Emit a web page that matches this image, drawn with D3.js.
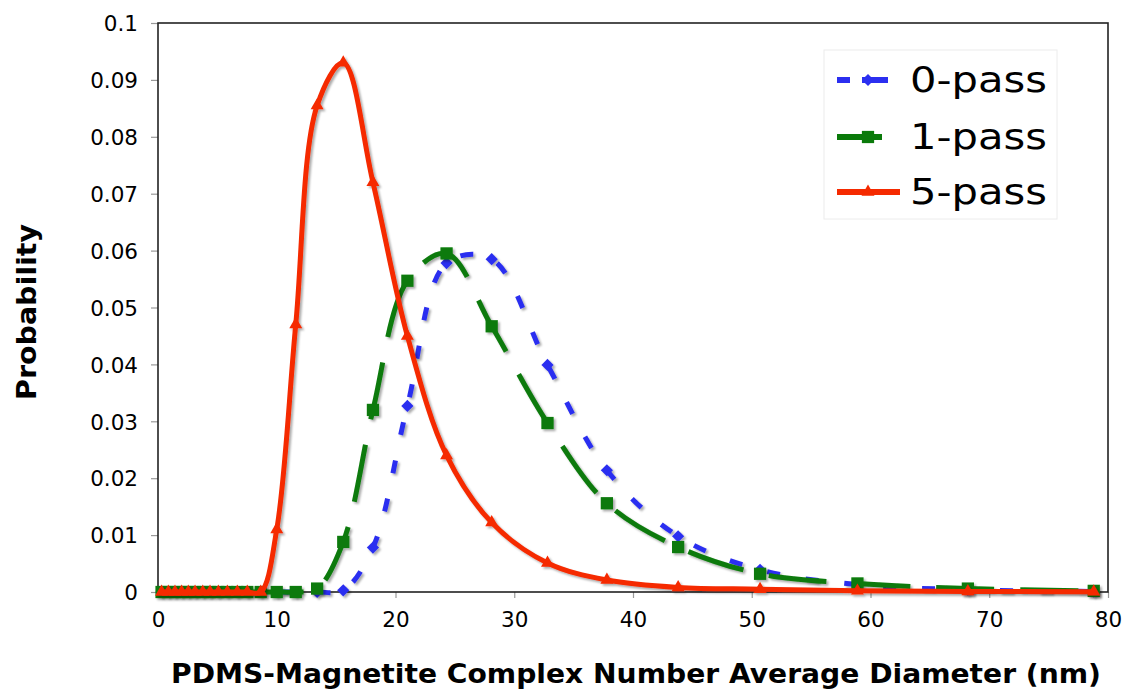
<!DOCTYPE html>
<html>
<head>
<meta charset="utf-8">
<script src="https://cdn.jsdelivr.net/npm/d3@7"></script>
<style>
  html, body { margin: 0; padding: 0; background: #fff; }
  svg { display: block; }
  text { font-family: "DejaVu Sans", Verdana, sans-serif; fill: #000; }
</style>
</head>
<body>
<svg id="chart" width="1122" height="692"></svg>
<script>
// Particle diameter bins (nm)
const diameters = [0.3, 0.87, 1.43, 1.99, 2.55, 3.12, 3.77, 4.38, 5.08, 5.84, 6.68, 7.52, 8.65,
                   10.0, 11.6, 13.4, 15.6, 18.1, 21.0, 24.3, 28.1, 32.8, 37.8, 43.8, 50.7, 58.9, 68.2, 78.8];

// Probability per bin for each processing condition
const pass0 = [0, 0, 0, 0, 0, 0, 0, 0, 0, 0, 0, 0, 0, 0, 0, 0,
               0.0003, 0.0078, 0.0327, 0.0578, 0.0585, 0.0399, 0.0214, 0.0098, 0.0039, 0.0013, 0.0004, 0.0001];
const pass1 = [0, 0, 0, 0, 0, 0, 0, 0, 0, 0, 0, 0, 0, 0, 0,
               0.0006, 0.0088, 0.032, 0.0547, 0.0595, 0.0467, 0.0297, 0.0156, 0.0079, 0.0032, 0.0015, 0.0006, 0.0002];
const pass5 = [0, 0, 0, 0, 0, 0, 0, 0, 0, 0, 0, 0, 0,
               0.011, 0.047, 0.0855, 0.093, 0.072, 0.045, 0.024, 0.0122, 0.0051, 0.0021, 0.0008, 0.0005, 0.0002, 0.0001, 0.00005];

const seriesNames = ["0-pass", "1-pass", "5-pass"];
const xTicks = [0, 10, 20, 30, 40, 50, 60, 70, 80];
const yTicks = [0, 0.01, 0.02, 0.03, 0.04, 0.05, 0.06, 0.07, 0.08, 0.09, 0.1];

const series = [
  { name: seriesNames[0], values: pass0, color: "#2b2ff0", dash: "13,26", marker: "diamond" },
  { name: seriesNames[1], values: pass1, color: "#0a7a0a", dash: "58,26", marker: "square" },
  { name: seriesNames[2], values: pass5, color: "#f52a00", dash: null, marker: "triangle" }
];

const svg = d3.select("#chart");
const plotLeft = 158, plotRight = 1108, plotTop = 23, plotBottom = 592;

const x = d3.scaleLinear().domain([0, 80]).range([plotLeft, plotRight]);
const y = d3.scaleLinear().domain([0, 0.1]).range([plotBottom, plotTop]);

// Soft drop shadow under the data lines
const defs = svg.append("defs");
const shadow = defs.append("filter").attr("id", "shadow")
  .attr("x", "-5%").attr("y", "-5%").attr("width", "110%").attr("height", "110%");
shadow.append("feDropShadow")
  .attr("dx", 2).attr("dy", 2).attr("stdDeviation", 0.9)
  .attr("flood-color", "#000").attr("flood-opacity", 0.33);

// Axes
const fmtY = d => d === 0 ? "0" : String(+d.toFixed(2));
const yAxis = svg.append("g").attr("transform", `translate(${plotLeft},0)`)
  .call(d3.axisLeft(y).tickValues(yTicks).tickFormat(fmtY).tickSize(7).tickPadding(13));
const xAxis = svg.append("g").attr("transform", `translate(0,${plotBottom})`)
  .call(d3.axisBottom(x).tickValues(xTicks).tickFormat(d3.format("d")).tickSize(6).tickPadding(14));

[yAxis, xAxis].forEach(g => {
  g.select(".domain").remove();
  g.selectAll(".tick line").attr("stroke", "#999").attr("stroke-width", 1.2);
  g.selectAll(".tick text").style("font-size", "21.5px").attr("fill", "#000");
});
yAxis.selectAll(".tick text").attr("dy", "0.36em");

// Plot area frame
svg.append("rect")
  .attr("x", plotLeft).attr("y", plotTop)
  .attr("width", plotRight - plotLeft).attr("height", plotBottom - plotTop)
  .attr("fill", "none").attr("stroke", "#222").attr("stroke-width", 1.6);

// Marker shapes
const symbolFor = {
  diamond: d3.symbol().type(d3.symbolDiamond2).size(95),
  square: d3.symbol().type(d3.symbolSquare).size(150),
  triangle: d3.symbol().type(d3.symbolTriangle2).size(120)
};

const line = d3.line()
  .x(d => x(d[0]))
  .y(d => y(d[1]))
  .curve(d3.curveCatmullRom.alpha(0.5));

const plot = svg.append("g");
series.forEach(s => {
  const pts = diameters.map((d, i) => [d, s.values[i]]);
  const g = plot.append("g").attr("filter", "url(#shadow)");
  g.append("path")
    .datum(pts)
    .attr("d", line)
    .attr("fill", "none")
    .attr("stroke", s.color)
    .attr("stroke-width", 5)
    .attr("stroke-linejoin", "round")
    .attr("stroke-dasharray", s.dash);
  g.selectAll("path.mk")
    .data(pts)
    .join("path")
    .attr("class", "mk")
    .attr("transform", d => `translate(${x(d[0])},${y(d[1])})`)
    .attr("d", symbolFor[s.marker])
    .attr("fill", s.color);
});

// Legend
const legend = svg.append("g");
legend.append("rect")
  .attr("x", 824).attr("y", 50).attr("width", 233).attr("height", 169)
  .attr("fill", "#fff").attr("stroke", "#ececec").attr("stroke-width", 1);

const legendRows = [80, 137, 192];
const legendLines = [
  [[837, 850], [862, 888]],
  [[837, 882]],
  [[837, 900]]
];
series.forEach((s, i) => {
  const row = legend.append("g");
  legendLines[i].forEach(seg => {
    row.append("line")
      .attr("x1", seg[0]).attr("x2", seg[1])
      .attr("y1", legendRows[i]).attr("y2", legendRows[i])
      .attr("stroke", s.color).attr("stroke-width", 6);
  });
  row.append("path")
    .attr("transform", `translate(868,${legendRows[i]})`)
    .attr("d", symbolFor[s.marker])
    .attr("fill", s.color);
  row.append("text")
    .attr("x", 910).attr("y", legendRows[i] + 12)
    .attr("textLength", 137).attr("lengthAdjust", "spacingAndGlyphs")
    .style("font-size", "35px")
    .text(s.name);
});

// Axis titles
svg.append("text")
  .attr("x", 636).attr("y", 683)
  .attr("text-anchor", "middle")
  .attr("textLength", 930).attr("lengthAdjust", "spacingAndGlyphs")
  .style("font-size", "26px").style("font-weight", "bold")
  .text("PDMS-Magnetite Complex Number Average Diameter (nm)");

svg.append("text")
  .attr("transform", "translate(36,312) rotate(-90)")
  .attr("text-anchor", "middle")
  .attr("textLength", 176).attr("lengthAdjust", "spacingAndGlyphs")
  .style("font-size", "26px").style("font-weight", "bold")
  .text("Probability");
</script>
</body>
</html>
